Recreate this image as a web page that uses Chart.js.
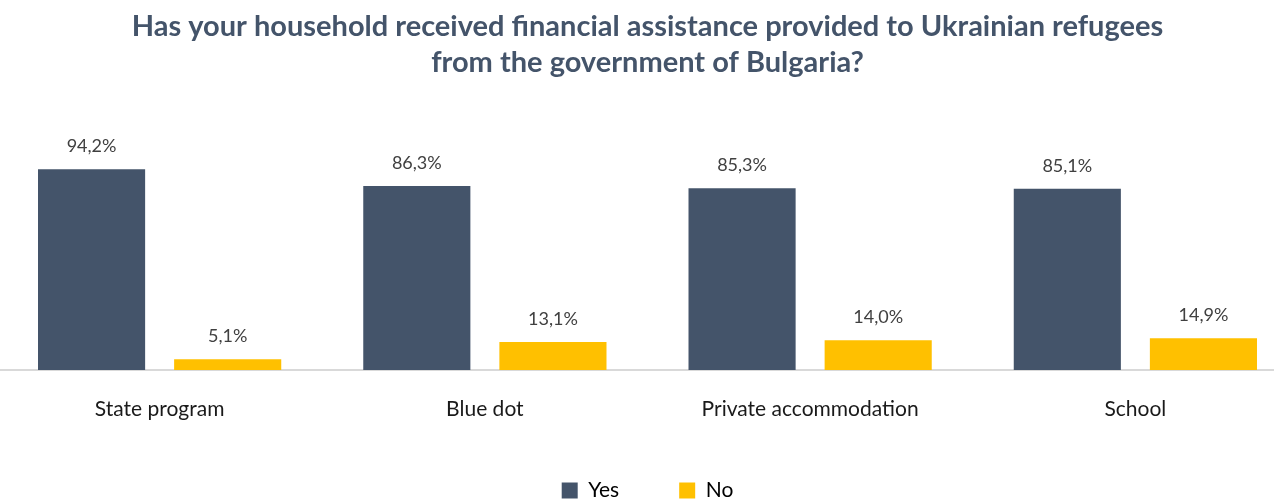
<!DOCTYPE html>
<html lang="en">
<head>
<meta charset="UTF-8">
<title>Financial assistance to Ukrainian refugees</title>
<script src="https://cdn.jsdelivr.net/npm/chart.js"></script>
<style>
    html, body { margin: 0; padding: 0; background: #fff; overflow: hidden; }
    #wrap { position: absolute; left: -3px; top: 0; width: 1301px; height: 511px; }
</style>
</head>
<body>
<div id="wrap"><canvas id="chart"></canvas></div>
<script>
    const categories = ['State program', 'Blue dot', 'Private accommodation', 'School'];
    const yesValues = [94.2, 86.3, 85.3, 85.1];
    const noValues = [5.1, 13.1, 14.0, 14.9];
    const seriesNames = ['Yes', 'No'];
    const seriesColors = ['#44546A', '#FFC000'];
    const titleLines = [
        'Has your household received financial assistance provided to Ukrainian refugees',
        'from the government of Bulgaria?'
    ];

    const FONT = 'Lato, "Open Sans", sans-serif';

    // prints "94,2%" style values above each bar
    const valueLabels = {
        id: 'valueLabels',
        afterDatasetsDraw(chart) {
            const ctx = chart.ctx;
            ctx.save();
            ctx.font = '18px ' + FONT;
            ctx.fillStyle = '#404040';
            ctx.textAlign = 'center';
            ctx.textBaseline = 'alphabetic';
            chart.data.datasets.forEach((ds, i) => {
                chart.getDatasetMeta(i).data.forEach((bar, j) => {
                    const txt = ds.data[j].toFixed(1).replace('.', ',') + '%';
                    ctx.fillText(txt, bar.x, bar.y - 17);
                });
            });
            ctx.restore();
        }
    };

    new Chart(document.getElementById('chart'), {
        type: 'bar',
        data: {
            labels: categories,
            datasets: [
                { label: seriesNames[0], data: yesValues, backgroundColor: seriesColors[0] },
                { label: seriesNames[1], data: noValues, backgroundColor: seriesColors[1] }
            ]
        },
        options: {
            responsive: true,
            maintainAspectRatio: false,
            animation: false,
            categoryPercentage: 0.837,
            barPercentage: 0.787,
            layout: { padding: 0 },
            plugins: {
                tooltip: { enabled: false },
                title: {
                    display: true,
                    text: titleLines,
                    color: '#44546A',
                    font: { family: FONT, size: 29, weight: 'bold', lineHeight: 1.24 },
                    padding: { top: 9, bottom: 76 }
                },
                legend: {
                    position: 'bottom',
                    labels: {
                        color: '#000',
                        font: { family: FONT, size: 21 },
                        boxWidth: 16,
                        boxHeight: 16,
                        padding: 60
                    }
                }
            },
            scales: {
                x: {
                    grid: { display: true, drawOnChartArea: false, drawTicks: false },
                    border: { display: true, color: '#D9D9D9', width: 2 },
                    ticks: {
                        color: '#1a1a1a',
                        padding: 27,
                        font: { family: FONT, size: 21 }
                    },
                    afterFit(scale) { scale.height = 50; }
                },
                y: {
                    display: false,
                    min: 0,
                    max: 100
                }
            }
        },
        plugins: [valueLabels]
    });
</script>
</body>
</html>
